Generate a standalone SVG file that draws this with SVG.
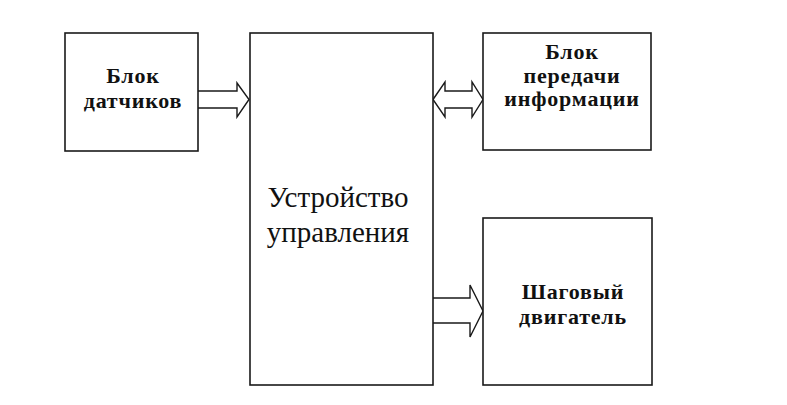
<svg xmlns="http://www.w3.org/2000/svg" width="787" height="405" viewBox="0 0 787 405">
<style>
.box{fill:#fff;stroke:#1a1a1a;stroke-width:1.6}
.arr{fill:#fff;stroke:#1a1a1a;stroke-width:1.4;stroke-linejoin:miter}
.lbl{font-family:"Liberation Serif","Times New Roman",serif;font-weight:bold;font-size:22px;letter-spacing:0.8px;fill:#111;text-anchor:middle}
.big{font-family:"Liberation Serif","Times New Roman",serif;font-size:29px;fill:#111;text-anchor:middle}
</style>
<rect width="787" height="405" fill="#fff"/>
<g id="connectors">
<path class="arr" d="M198,91 H237 V83 L249,99.5 L237,117 V108 H198"/>
<path class="arr" d="M433,99.5 L445,82 V91 H472 V82 L483,99.5 L472,117 V108 H445 V117 Z"/>
<path class="arr" d="M433,298 H470 V285 L483,311 L470,337 V323 H433"/>
</g>
<g id="sensors">
<rect class="box" x="65" y="33" width="133" height="118"/>
<text class="lbl" x="133" y="83">Блок</text>
<text class="lbl" x="133" y="108">датчиков</text>
</g>
<g id="controller">
<rect class="box" x="250" y="33" width="183" height="352"/>
<text class="big" x="338" y="207">Устройство</text>
<text class="big" x="338" y="242">управления</text>
</g>
<g id="transfer">
<rect class="box" x="483" y="33" width="168" height="117"/>
<text class="lbl" x="572" y="59">Блок</text>
<text class="lbl" x="572" y="83">передачи</text>
<text class="lbl" x="572" y="106">информации</text>
</g>
<g id="motor">
<rect class="box" x="483" y="218" width="169" height="167"/>
<text class="lbl" x="573" y="299">Шаговый</text>
<text class="lbl" x="573" y="324">двигатель</text>
</g>
</svg>
